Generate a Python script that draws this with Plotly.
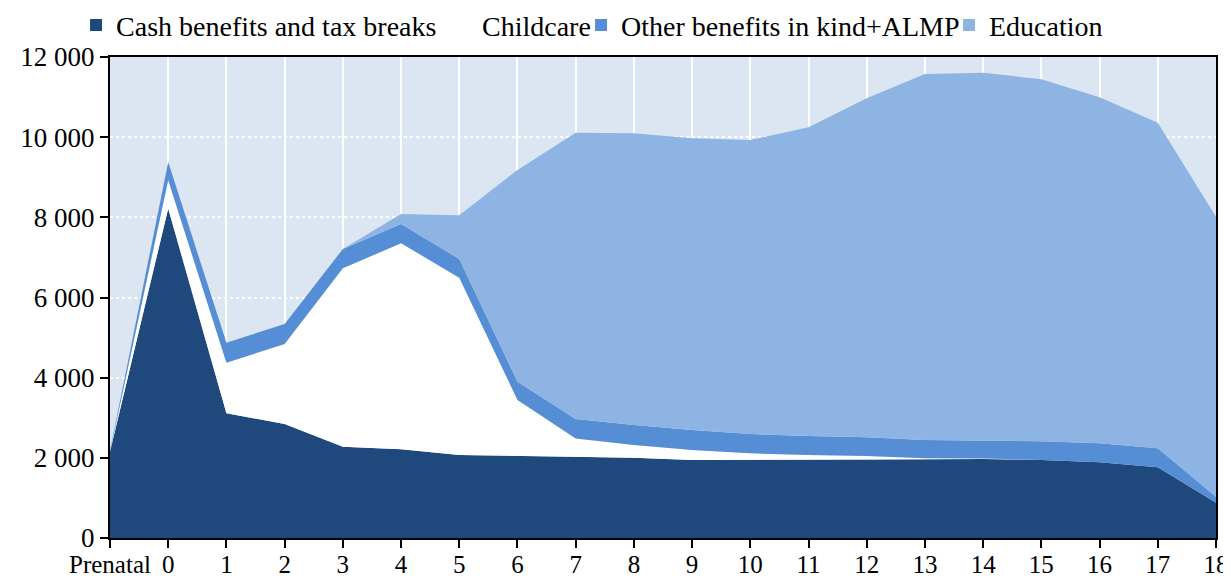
import plotly.graph_objects as go

categories = ["Prenatal", "0", "1", "2", "3", "4", "5", "6", "7", "8", "9",
              "10", "11", "12", "13", "14", "15", "16", "17", "18"]

cash = [2150, 8220, 3110, 2845, 2275, 2215, 2070, 2045, 2035, 2005, 1945,
        1945, 1960, 1960, 1965, 1970, 1946, 1888, 1764, 880]
childcare = [0, 706, 1264, 1995, 4454, 5138, 4425, 1398, 445, 315, 251,
             168, 111, 86, 25, 15, 0, 0, 0, 0]
other = [30, 454, 499, 499, 481, 481, 466, 457, 489, 500, 499,
         482, 474, 466, 455, 452, 466, 474, 474, 150]
education = [0, 0, 0, 0, 0, 250, 1090, 5282, 7144, 7277, 7278,
             7335, 7702, 8458, 9132, 9173, 9032, 8633, 8124, 6987]

y_ticks = [0, 2000, 4000, 6000, 8000, 10000, 12000]
y_tick_labels = ["0", "2 000", "4 000", "6 000", "8 000", "10 000", "12 000"]

series = [
    ("Cash benefits and tax breaks", cash, "#1f497d"),
    ("Childcare", childcare, "#ffffff"),
    ("Other benefits in kind+ALMP", other, "#558ed5"),
    ("Education", education, "#8eb4e3"),
]
legend_ids = ["legend", "legend2", "legend3", "legend4"]
legend_x = [-0.0307, 0.3002, 0.4259, 0.7586]

xs = list(range(len(categories)))
fig = go.Figure()
for name, vals, col in series:
    fig.add_trace(go.Scatter(
        x=xs, y=vals, stackgroup="one", mode="lines",
        line=dict(width=0, color=col), fillcolor=col,
        name=name, showlegend=False, hoverinfo="skip"))
for (name, vals, col), lid in zip(series, legend_ids):
    fig.add_trace(go.Scatter(
        x=[None], y=[None], mode="markers", name=name,
        marker=dict(symbol="square", size=12, color=col),
        showlegend=True, legend=lid))

font_family = "Liberation Serif, Times New Roman, serif"
legend_common = dict(orientation="h", xanchor="left", y=1.066, yanchor="middle",
                     font=dict(size=28, family=font_family, color="black"),
                     itemwidth=30, bgcolor="rgba(0,0,0,0)")
layout_legends = {lid: dict(legend_common, x=lx) for lid, lx in zip(legend_ids, legend_x)}

fig.update_layout(
    width=1223, height=572,
    margin=dict(l=102, r=15, t=49, b=42, autoexpand=False),
    paper_bgcolor="white",
    plot_bgcolor="#dce6f2",
    font=dict(family=font_family, size=27, color="black"),
    xaxis=dict(
        range=[0, len(categories) - 1], tickmode="array", tickvals=xs,
        ticktext=categories, showgrid=True, gridcolor="white", gridwidth=2,
        showline=True, linecolor="black", linewidth=2, mirror=True,
        ticks="outside", ticklen=8, tickwidth=2, tickcolor="black",
        zeroline=False, tickfont=dict(size=25), ticklabelstandoff=-5),
    yaxis=dict(
        range=[0, 12000], tickmode="array", tickvals=y_ticks,
        ticktext=y_tick_labels, showgrid=True, gridcolor="white", gridwidth=1.5,
        griddash="dot", showline=True, linecolor="black", linewidth=2, mirror=True,
        ticks="outside", ticklen=8, tickwidth=2, tickcolor="black",
        zeroline=False, tickfont=dict(size=27)),
    **layout_legends,
)

fig.write_html("out.html")
